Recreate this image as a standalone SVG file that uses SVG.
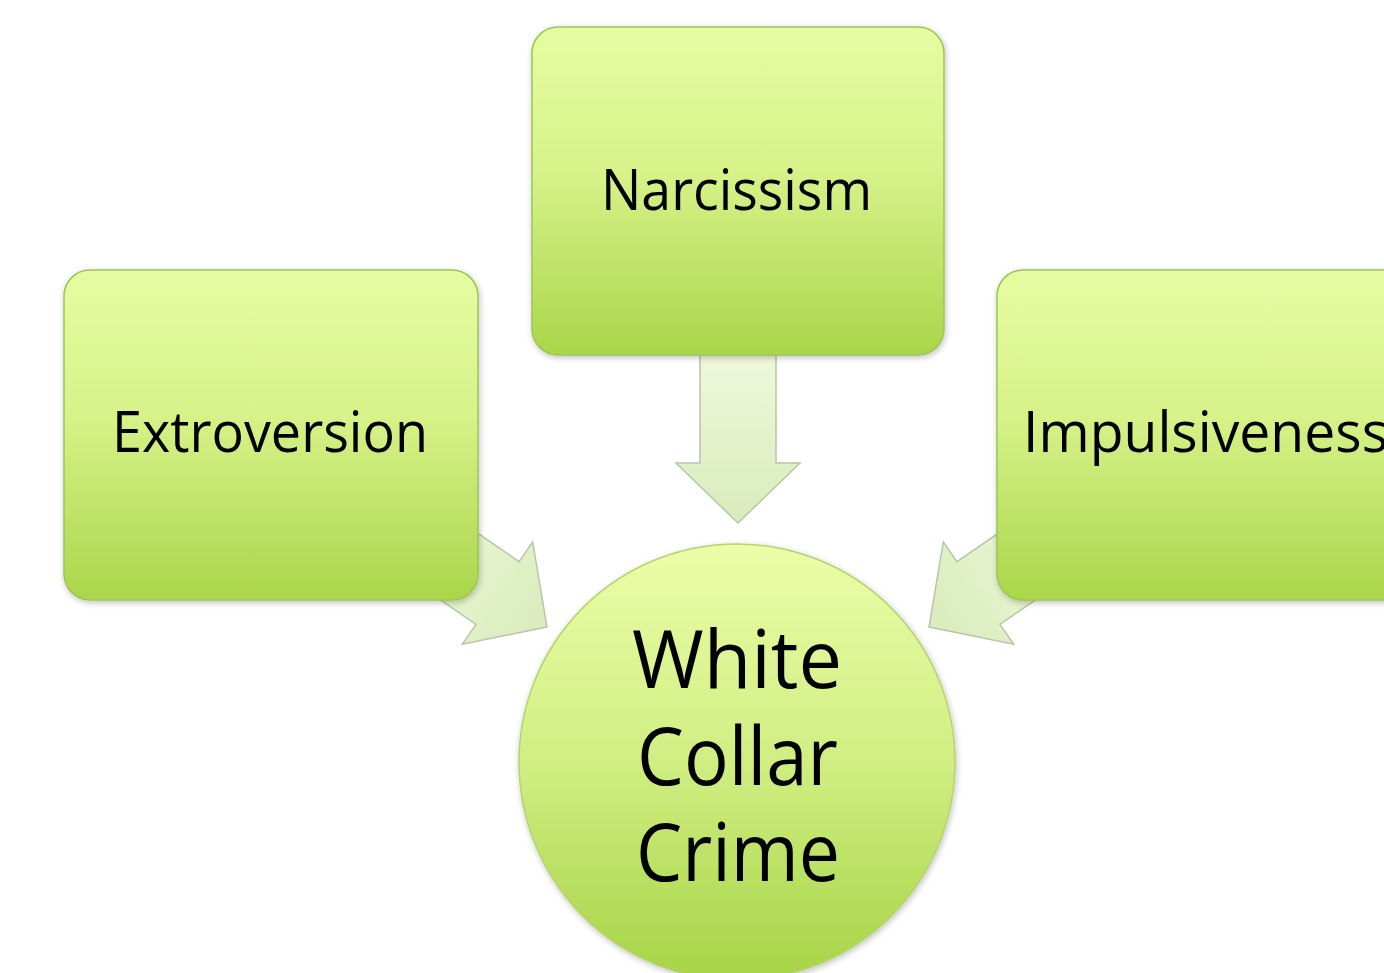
<svg xmlns="http://www.w3.org/2000/svg" width="1384" height="973" viewBox="0 0 1384 973">
  <defs>
    <linearGradient id="gBox" x1="0" y1="0" x2="0" y2="1">
      <stop offset="0" stop-color="#e6fca2"/>
      <stop offset="0.45" stop-color="#d6f288"/>
      <stop offset="1" stop-color="#a9d64a"/>
    </linearGradient>
    <linearGradient id="gCircle" x1="0" y1="0" x2="0" y2="1">
      <stop offset="0" stop-color="#ecfda8"/>
      <stop offset="0.5" stop-color="#d0ee82"/>
      <stop offset="1" stop-color="#a6d446"/>
    </linearGradient>
    <linearGradient id="gArrow" x1="0" y1="0" x2="1" y2="0">
      <stop offset="0" stop-color="#eef8da"/>
      <stop offset="1" stop-color="#d9ecbc"/>
    </linearGradient>
    <filter id="shadow" x="-10%" y="-10%" width="120%" height="120%">
      <feGaussianBlur in="SourceAlpha" stdDeviation="3"/>
      <feOffset dx="1" dy="2"/>
      <feComponentTransfer><feFuncA type="linear" slope="0.25"/></feComponentTransfer>
      <feMerge><feMergeNode/><feMergeNode in="SourceGraphic"/></feMerge>
    </filter>
    <path id="arrowShape" d="M0,0 L-60,-62 L-60,-38 L-170,-38 L-170,38 L-60,38 L-60,62 Z"/>
  </defs>
  <style>
    .box { fill: url(#gBox); stroke: #9fc453; stroke-width: 1.5; filter: url(#shadow); }
    .circ { fill: url(#gCircle); stroke: #b5d36e; stroke-width: 1.5; filter: url(#shadow); }
    .arrow { fill: url(#gArrow); stroke: #b9c4a8; stroke-width: 1.5; stroke-linejoin: miter; }
    .lbl { font-family: "Open Sans", "Noto Sans", "Liberation Sans", sans-serif; fill: #000; }
    .small { font-size: 56px; }
    .big { font-size: 80px; }
  </style>

  <g id="connectors">
    <use href="#arrowShape" class="arrow" transform="translate(738,523) rotate(90)"/>
    <use href="#arrowShape" class="arrow" transform="translate(547,627) rotate(34.5)"/>
    <use href="#arrowShape" class="arrow" transform="translate(929,627) rotate(145.5)"/>
  </g>

  <g id="node-narcissism">
    <rect class="box" x="532" y="27" width="412" height="328" rx="26"/>
    <text class="lbl small" x="601" y="210" textLength="271" lengthAdjust="spacingAndGlyphs">Narcissism</text>
  </g>

  <g id="node-extroversion">
    <rect class="box" x="64" y="270" width="414" height="330" rx="26"/>
    <text class="lbl small" x="112" y="452" textLength="316" lengthAdjust="spacingAndGlyphs">Extroversion</text>
  </g>

  <g id="node-impulsiveness">
    <rect class="box" x="997" y="270" width="430" height="330" rx="26"/>
    <text class="lbl small" x="1023" y="452" textLength="365" lengthAdjust="spacingAndGlyphs">Impulsiveness</text>
  </g>

  <g id="node-white-collar-crime">
    <circle class="circ" cx="737" cy="762" r="218"/>
    <text class="lbl big" x="632" y="688" textLength="210" lengthAdjust="spacingAndGlyphs">White</text>
    <text class="lbl big" x="637" y="785" textLength="201" lengthAdjust="spacingAndGlyphs">Collar</text>
    <text class="lbl big" x="636" y="881" textLength="204" lengthAdjust="spacingAndGlyphs">Crime</text>
  </g>
</svg>
